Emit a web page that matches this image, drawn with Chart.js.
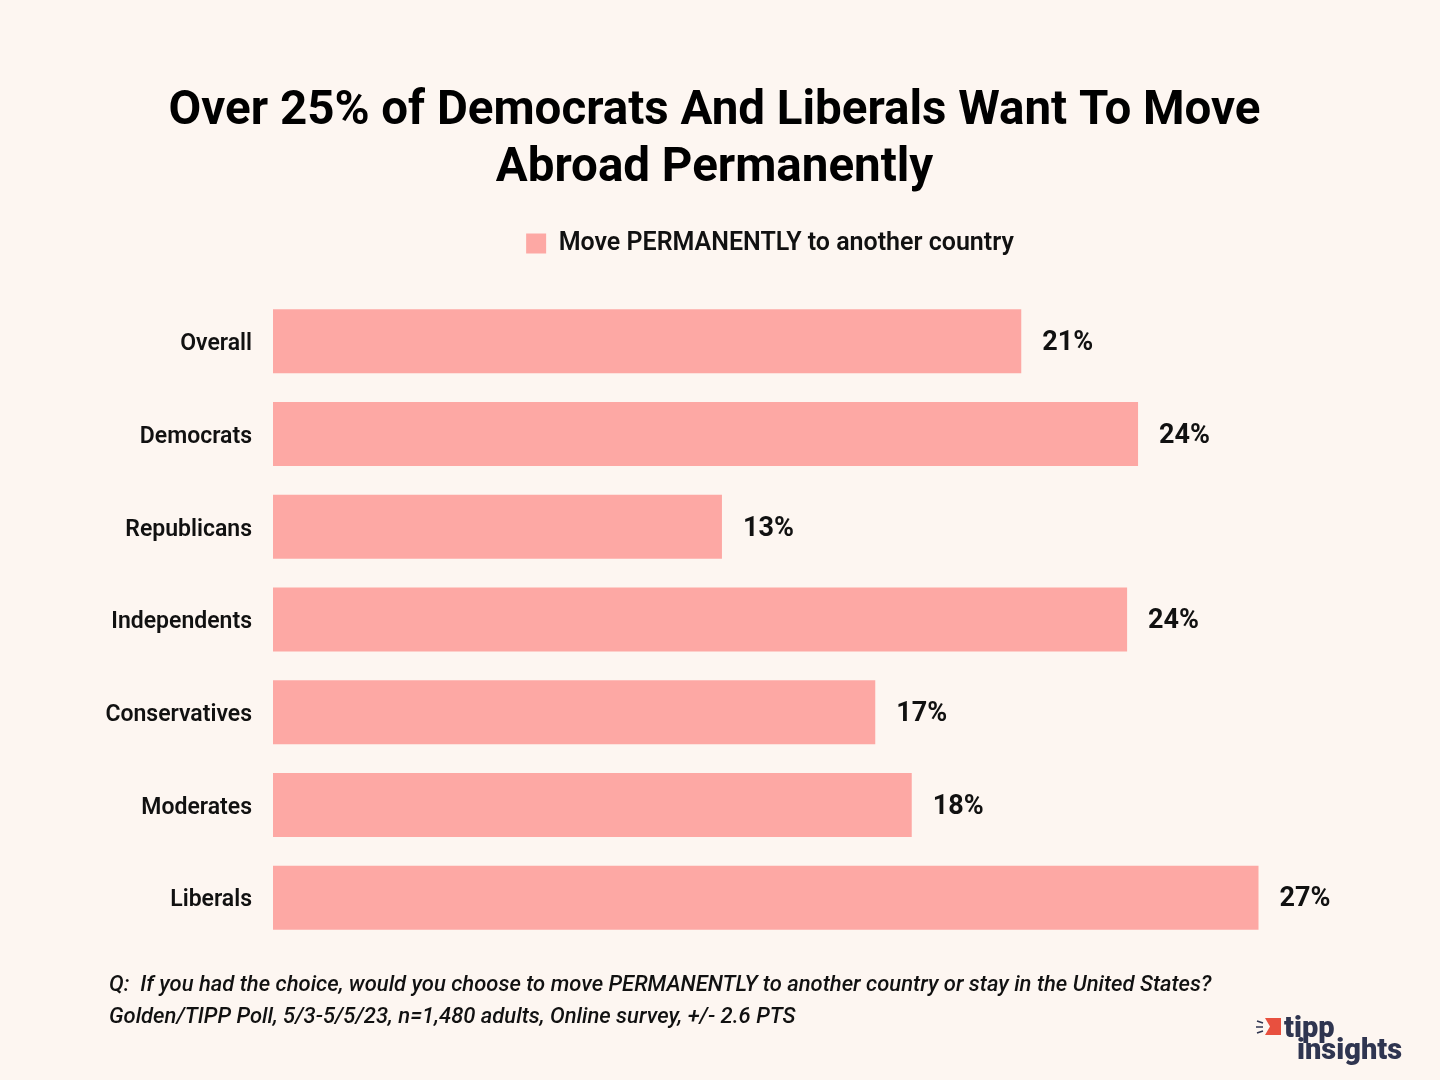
<!DOCTYPE html>
<html>
<head>
<meta charset="utf-8">
<script src="https://cdn.jsdelivr.net/npm/chart.js@4.4.0/dist/chart.umd.min.js"></script>
<style>
  html, body { margin: 0; padding: 0; background: #fdf6f1; }
  #wrap { position: relative; width: 1440px; height: 1080px; }
</style>
</head>
<body>
<div id="wrap"><canvas id="c" width="1440" height="1080"></canvas></div>
<script>
const categories = ["Overall", "Democrats", "Republicans", "Independents", "Conservatives", "Moderates", "Liberals"];
const values = [20.5, 23.7, 12.3, 23.4, 16.5, 17.5, 27.0];
const valueLabels = ["21%", "24%", "13%", "24%", "17%", "18%", "27%"];
const seriesName = "Move PERMANENTLY to another country";
const titleLines = ["Over 25% of Democrats And Liberals Want To Move", "Abroad Permanently"];
const footnotes = [
  "Q:  If you had the choice, would you choose to move PERMANENTLY to another country or stay in the United States?",
  "Golden/TIPP Poll, 5/3-5/5/23, n=1,480 adults, Online survey, +/- 2.6 PTS"
];

const FONT = "Roboto, 'Noto Sans', sans-serif";

const bgPlugin = {
  id: 'bg',
  beforeDraw(chart) {
    const ctx = chart.ctx;
    ctx.save();
    ctx.fillStyle = '#fdf6f1';
    ctx.fillRect(0, 0, chart.width, chart.height);
    ctx.restore();
  }
};

const legendMargin = {
  id: 'legendMargin',
  beforeInit(chart) {
    const orig = chart.legend.fit;
    chart.legend.fit = function () {
      orig.bind(chart.legend)();
      this.height += 30;
    };
  },
  afterLayout(chart) {
    chart.legend.left += 111;
    chart.legend.top += 1;
  }
};

const labelPlugin = {
  id: 'valueLabels',
  afterDatasetsDraw(chart) {
    const ctx = chart.ctx;
    const meta = chart.getDatasetMeta(0);
    ctx.save();
    ctx.font = "bold 27px " + FONT;
    ctx.fillStyle = '#111';
    ctx.textAlign = 'left';
    ctx.textBaseline = 'middle';
    meta.data.forEach((bar, i) => {
      ctx.fillText(valueLabels[i], bar.x + 21, bar.y + 2);
    });
    ctx.restore();
  }
};

const footPlugin = {
  id: 'foot',
  afterDraw(chart) {
    const ctx = chart.ctx;
    ctx.save();
    ctx.font = "italic 500 22px " + FONT;
    ctx.fillStyle = '#111';
    ctx.textAlign = 'left';
    ctx.textBaseline = 'middle';
    ctx.fillText(footnotes[0], 109, 985);
    ctx.fillText(footnotes[1], 109, 1017);
    // logo
    ctx.fillStyle = '#e8503f';
    ctx.beginPath();
    ctx.moveTo(1265, 1018);
    ctx.lineTo(1281, 1018);
    ctx.lineTo(1281, 1035);
    ctx.lineTo(1265, 1035);
    ctx.lineTo(1270, 1026.5);
    ctx.closePath();
    ctx.fill();
    ctx.strokeStyle = '#2f3550';
    ctx.lineWidth = 1.6;
    ctx.beginPath();
    ctx.moveTo(1257, 1021); ctx.lineTo(1263, 1023);
    ctx.moveTo(1256, 1027); ctx.lineTo(1263, 1027);
    ctx.moveTo(1257, 1033); ctx.lineTo(1263, 1031);
    ctx.stroke();
    ctx.fillStyle = '#2f3550';
    ctx.font = "900 29px " + FONT;
    ctx.textBaseline = 'alphabetic';
    ctx.fillText("tipp", 1284, 1037);
    ctx.fillText("insights", 1297, 1059);
    ctx.restore();
  }
};

new Chart(document.getElementById('c'), {
  type: 'bar',
  data: {
    labels: categories,
    datasets: [{
      label: seriesName,
      data: values,
      backgroundColor: '#fda8a4',
      borderWidth: 0,
      barPercentage: 0.69,
      categoryPercentage: 1.0
    }]
  },
  options: {
    indexAxis: 'y',
    responsive: false,
    animation: false,
    devicePixelRatio: 1,
    layout: { padding: { left: 61, right: 72, top: 60, bottom: 136 } },
    scales: {
      x: { display: false, min: 0, max: 30 },
      y: {
        grid: { display: false, drawTicks: false },
        border: { display: false },
        afterFit(scale) { scale.width = 212; },
        ticks: { color: '#111', font: { family: FONT, size: 23, weight: '600' }, padding: 21, labelOffset: 3 }
      }
    },
    plugins: {
      title: {
        display: true,
        text: titleLines,
        color: '#000',
        font: { family: FONT, size: 47.5, weight: 'bold', lineHeight: 1.2 },
        padding: { top: 24, bottom: 16 }
      },
      legend: {
        display: true,
        labels: {
          color: '#111',
          font: { family: FONT, size: 25, weight: '600' },
          boxWidth: 20, boxHeight: 20, padding: 16
        }
      },
      tooltip: { enabled: false }
    }
  },
  plugins: [bgPlugin, legendMargin, labelPlugin, footPlugin]
});
</script>
</body>
</html>
